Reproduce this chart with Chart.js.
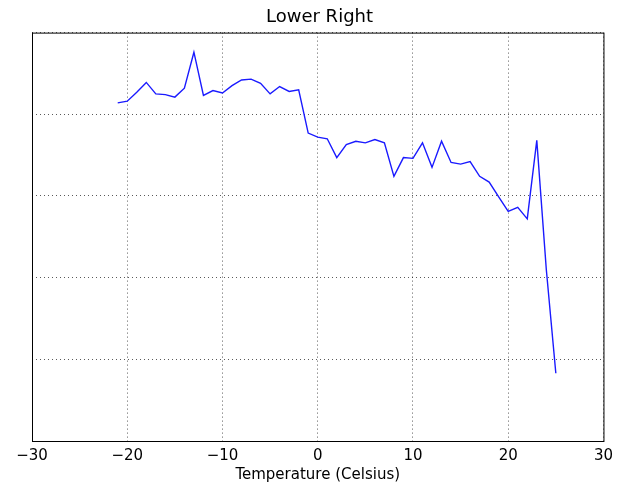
<!DOCTYPE html>
<html>
<head>
<meta charset="utf-8">
<script src="https://cdn.jsdelivr.net/npm/chart.js@4/dist/chart.umd.min.js"></script>
<style>
  body { margin: 0; background: #fff; }
  canvas { display: block; }
</style>
</head>
<body>
<canvas id="chart" width="619" height="484"></canvas>
<script>
// Temperaturas (eixo x) e valores
const temperatures = [
  -21, -20, -19, -18, -17, -16, -15, -14, -13, -12, -11, -10, -9, -8, -7, -6,
  -5, -4, -3, -2, -1, 0, 1, 2, 3, 4, 5, 6, 7, 8, 9, 10, 11, 12, 13, 14, 15,
  16, 17, 18, 19, 20, 21, 22, 23, 24, 25
];
const values = [
  4.14, 4.16, 4.27, 4.39, 4.25, 4.24, 4.21, 4.32, 4.76, 4.23, 4.29, 4.26, 4.35, 4.42, 4.43, 4.38,
  4.25, 4.34, 4.28, 4.30, 3.77, 3.72, 3.70, 3.47, 3.63, 3.67, 3.65, 3.69, 3.65, 3.24, 3.47, 3.46,
  3.65, 3.35, 3.67, 3.41, 3.39, 3.42, 3.24, 3.17, 2.99, 2.81, 2.86, 2.72, 3.68, 2.10, 0.83
];
const xTicks = [-30, -20, -10, 0, 10, 20, 30];

const points = temperatures.map((t, i) => ({ x: t, y: values[i] }));

// Moldura em volta da área do gráfico (estilo matplotlib)
const framePlugin = {
  id: 'frame',
  afterDraw(chart) {
    const { ctx, chartArea } = chart;
    ctx.save();
    ctx.strokeStyle = '#000';
    ctx.lineWidth = 1;
    ctx.strokeRect(chartArea.left + 0.5, chartArea.top + 0.5,
      chartArea.right - chartArea.left, chartArea.bottom - chartArea.top);
    ctx.restore();
  }
};

const gridStyle = {
  color: 'rgba(0,0,0,0.65)',
  lineWidth: 1,
  drawTicks: false,
};

new Chart(document.getElementById('chart').getContext('2d'), {
  type: 'line',
  data: {
    datasets: [{
      data: points,
      borderColor: '#1a1aff',
      borderWidth: 1.4,
      pointRadius: 0,
      fill: false,
      tension: 0,
    }],
  },
  options: {
    responsive: false,
    animation: false,
    font: { family: 'DejaVu Sans' },
    layout: { padding: { left: 32, right: 12, bottom: 0 } },
    plugins: {
      legend: { display: false },
      tooltip: { enabled: false },
      title: {
        display: true,
        text: 'Lower Right',
        color: '#000',
        font: { family: 'DejaVu Sans', size: 18, weight: 'normal' },
        padding: { top: 7, bottom: 4 },
      },
    },
    scales: {
      x: {
        type: 'linear',
        min: -30,
        max: 30,
        afterBuildTicks: (axis) => { axis.ticks = xTicks.map((v) => ({ value: v })); },
        ticks: {
          color: '#000',
          padding: 6,
          maxRotation: 0,
          font: { family: 'DejaVu Sans', size: 15 },
          callback: (v) => String(v).replace('-', '\u2212'),
        },
        grid: gridStyle,
        border: { display: false, dash: [1, 3] },
        title: {
          display: true,
          text: 'Temperature (Celsius)',
          color: '#000',
          font: { family: 'DejaVu Sans', size: 15 },
          padding: { top: -5, bottom: 0 },
        },
      },
      y: {
        min: 0,
        max: 5,
        ticks: { display: false, stepSize: 1 },
        grid: gridStyle,
        border: { display: false, dash: [1, 3] },
      },
    },
  },
  plugins: [framePlugin],
});
</script>
</body>
</html>
